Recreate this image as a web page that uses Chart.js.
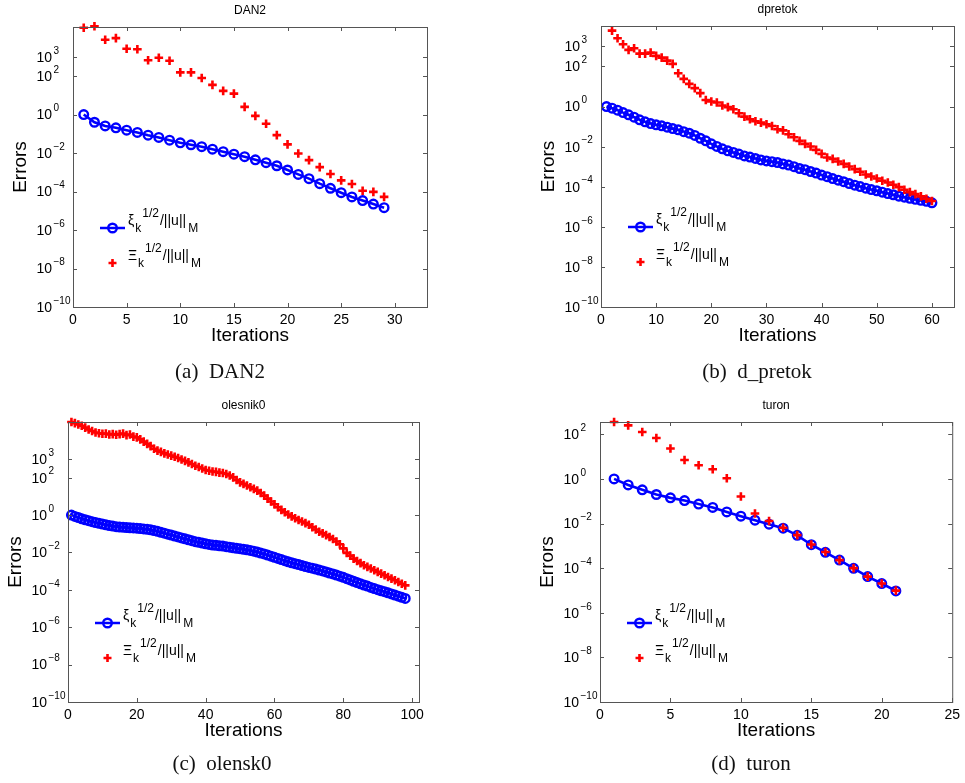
<!DOCTYPE html>
<html>
<head>
<meta charset="utf-8">
<script src="https://cdn.jsdelivr.net/npm/chart.js@4.4.1/dist/chart.umd.min.js"></script>
<style>
    body { margin: 0; background: #fff; width: 965px; height: 783px; position: relative; overflow: hidden; }
    canvas { position: absolute; }
    .caption {
        position: absolute;
        font-family: 'Liberation Serif', 'DejaVu Serif', serif;
        font-size: 21px;
        color: #111;
        transform: translate(-50%, -50%);
        white-space: pre;
    }
</style>
</head>
<body>
<canvas id="chartDan2" width="480" height="390" style="left:0;top:0"></canvas>
<canvas id="chartDpretok" width="485" height="390" style="left:480px;top:0"></canvas>
<canvas id="chartOlesnik" width="480" height="388" style="left:0;top:395px"></canvas>
<canvas id="chartTuron" width="485" height="388" style="left:480px;top:395px"></canvas>

<div class="caption" style="left:220px;top:371px">(a)  DAN2</div>
<div class="caption" style="left:757px;top:371px">(b)  d_pretok</div>
<div class="caption" style="left:222px;top:763px">(c)  olensk0</div>
<div class="caption" style="left:751px;top:763px">(d)  turon</div>

<script>
// Values are log10 of the errors (iteration k = 1, 2, ...)
const dan2Xi = [0, -0.40, -0.59, -0.69, -0.81, -0.93, -1.07, -1.19, -1.33, -1.47,
    -1.57, -1.67, -1.80, -1.93, -2.06, -2.19, -2.35, -2.50, -2.66, -2.88,
    -3.11, -3.33, -3.59, -3.83, -4.06, -4.28, -4.47, -4.65, -4.84];
const dan2BigXi = [4.51, 4.59, 3.89, 3.97, 3.42, 3.39, 2.82, 2.95, 2.80, 2.19,
    2.19, 1.90, 1.54, 1.23, 1.09, 0.40, -0.07, -0.48, -1.07, -1.55,
    -2.02, -2.37, -2.73, -3.09, -3.42, -3.61, -3.96, -4.02, -4.28];

const dpretokXi = [0, -0.08, -0.18, -0.30, -0.41, -0.53, -0.66, -0.76, -0.85, -0.91,
    -0.96, -1.03, -1.10, -1.16, -1.25, -1.33, -1.44, -1.58, -1.71, -1.86,
    -1.99, -2.11, -2.21, -2.29, -2.37, -2.46, -2.52, -2.59, -2.66, -2.71,
    -2.75, -2.79, -2.86, -2.92, -3.00, -3.09, -3.15, -3.24, -3.32, -3.42,
    -3.50, -3.59, -3.67, -3.75, -3.84, -3.92, -3.99, -4.07, -4.14, -4.20,
    -4.27, -4.34, -4.40, -4.47, -4.52, -4.58, -4.63, -4.68, -4.73, -4.80];
const dpretokBigXi = [null, 3.79, 3.41, 3.11, 2.83, 2.91, 2.64, 2.64, 2.69, 2.53,
    2.44, 2.29, 2.13, 1.66, 1.38, 1.13, 0.92, 0.67, 0.33, 0.25,
    0.20, 0.05, -0.03, -0.13, -0.33, -0.50, -0.63, -0.73, -0.80, -0.88,
    -0.97, -1.13, -1.19, -1.38, -1.53, -1.71, -1.86, -1.99, -2.16, -2.36,
    -2.54, -2.61, -2.74, -2.86, -2.99, -3.12, -3.25, -3.39, -3.49, -3.59,
    -3.70, -3.79, -3.90, -4.02, -4.15, -4.27, -4.37, -4.48, -4.60, -4.71];

const olesnikXi = [0, -0.07, -0.13, -0.20, -0.25, -0.30, -0.35, -0.40, -0.44, -0.48,
    -0.52, -0.56, -0.59, -0.62, -0.64, -0.65, -0.67, -0.68, -0.69, -0.70,
    -0.72, -0.74, -0.76, -0.79, -0.83, -0.87, -0.92, -0.97, -1.02, -1.07,
    -1.12, -1.17, -1.22, -1.27, -1.32, -1.37, -1.42, -1.46, -1.50, -1.54,
    -1.57, -1.60, -1.62, -1.64, -1.66, -1.69, -1.72, -1.75, -1.78, -1.80,
    -1.83, -1.86, -1.89, -1.93, -1.98, -2.03, -2.08, -2.14, -2.20, -2.26,
    -2.32, -2.38, -2.44, -2.50, -2.55, -2.60, -2.65, -2.70, -2.75, -2.80,
    -2.84, -2.89, -2.94, -2.99, -3.04, -3.10, -3.15, -3.21, -3.27, -3.33,
    -3.40, -3.47, -3.54, -3.61, -3.68, -3.74, -3.80, -3.87, -3.93, -3.99,
    -4.05, -4.10, -4.16, -4.22, -4.28, -4.34, -4.40, -4.46];
const olesnikBigXi = [4.98, 4.92, 4.85, 4.78, 4.68, 4.58, 4.50, 4.42, 4.38, 4.35,
    4.36, 4.31, 4.33, 4.30, 4.33, 4.36, 4.28, 4.31, 4.20, 4.16,
    4.05, 3.93, 3.81, 3.69, 3.55, 3.45, 3.38, 3.30, 3.24, 3.18,
    3.12, 3.05, 2.97, 2.90, 2.82, 2.73, 2.64, 2.57, 2.49, 2.41,
    2.37, 2.33, 2.31, 2.27, 2.25, 2.20, 2.12, 2.02, 1.88, 1.75,
    1.67, 1.58, 1.49, 1.40, 1.31, 1.18, 1.04, 0.88, 0.73, 0.58,
    0.42, 0.28, 0.15, 0.03, -0.07, -0.17, -0.26, -0.34, -0.43, -0.52,
    -0.65, -0.77, -0.89, -0.98, -1.07, -1.17, -1.28, -1.41, -1.56, -1.78,
    -2.02, -2.17, -2.33, -2.46, -2.57, -2.68, -2.77, -2.86, -2.95, -3.04,
    -3.13, -3.22, -3.31, -3.40, -3.49, -3.58, -3.67, -3.76];

const turonXi = [0, -0.27, -0.49, -0.70, -0.85, -0.97, -1.13, -1.28, -1.48, -1.67,
    -1.85, -2.03, -2.21, -2.53, -2.95, -3.29, -3.64, -4.01, -4.38, -4.69, -5.02];
const turonBigXi = [2.55, 2.40, 2.10, 1.83, 1.36, 0.85, 0.61, 0.43, 0.03, -0.79,
    -1.55, -1.89, -2.19, -2.52, -2.94, -3.28, -3.64, -4.00, -4.38, -4.69, -5.01];

// Tick labels
const yTickExpsFull = [-10, -8, -6, -4, -2, 0, 2, 3];
const yTickExpsTuron = [-10, -8, -6, -4, -2, 0, 2];
const xTicksDan2 = [0, 5, 10, 15, 20, 25, 30];
const xTicksDpretok = [0, 10, 20, 30, 40, 50, 60];
const xTicksOlesnik = [0, 20, 40, 60, 80, 100];
const xTicksTuron = [0, 5, 10, 15, 20, 25];

const FONT = "'Liberation Sans', Arial, sans-serif";

// draws text made of normal / subscript / superscript pieces
function drawRich(ctx, x, y, parts) {
    parts.forEach(p => {
        const size = p.s === 'main' ? 14 : 12;
        const dy = p.s === 'sub' ? 7 : (p.s === 'sup' ? -8 : 0);
        ctx.font = size + 'px ' + FONT;
        ctx.textAlign = 'left';
        ctx.textBaseline = 'alphabetic';
        ctx.fillText(p.t, x, y + dy);
        x += ctx.measureText(p.t).width + (p.gap || 0);
    });
}

// Matlab look: boxed axes, inward ticks, 10^n labels, titles and legend
const matlabAxes = {
    id: 'matlabAxes',
    afterDraw(chart, args, opts) {
        const { ctx, chartArea: a, scales } = chart;
        const xs = scales.x, ys = scales.y;
        ctx.save();

        ctx.strokeStyle = '#555';
        ctx.lineWidth = 1;
        ctx.strokeRect(a.left + 0.5, a.top + 0.5, a.right - a.left, a.bottom - a.top);

        ctx.beginPath();
        xs.ticks.forEach(t => {
            const px = Math.round(xs.getPixelForValue(t.value)) + 0.5;
            ctx.moveTo(px, a.bottom); ctx.lineTo(px, a.bottom - 4);
            ctx.moveTo(px, a.top); ctx.lineTo(px, a.top + 4);
        });
        ys.ticks.forEach(t => {
            const py = Math.round(ys.getPixelForValue(t.value)) + 0.5;
            ctx.moveTo(a.left, py); ctx.lineTo(a.left + 4, py);
            ctx.moveTo(a.right, py); ctx.lineTo(a.right - 4, py);
        });
        ctx.stroke();

        // y tick labels 10^n
        ctx.fillStyle = '#000';
        ys.ticks.forEach(t => {
            const py = ys.getPixelForValue(t.value);
            const e = Math.round(Math.log10(t.value));
            ctx.font = '14px ' + FONT;
            ctx.textAlign = 'right';
            ctx.textBaseline = 'middle';
            ctx.fillText('10', a.left - 21, py + 1);
            ctx.font = '10px ' + FONT;
            ctx.textAlign = 'left';
            ctx.fillText(String(e).replace('-', '\u2212'), a.left - 19.5, py - 6);
        });

        // title and axis labels
        const cx = (a.left + a.right) / 2;
        ctx.textAlign = 'center';
        ctx.textBaseline = 'middle';
        ctx.font = '12px ' + FONT;
        ctx.fillText(opts.title, cx, a.top - 16);
        ctx.font = '19px ' + FONT;
        ctx.fillText('Iterations', cx, a.bottom + 29);
        ctx.save();
        ctx.translate(a.left - 52, (a.top + a.bottom) / 2);
        ctx.rotate(-Math.PI / 2);
        ctx.fillText('Errors', 0, 0);
        ctx.restore();

        // legend
        const r1 = a.top + 201, r2 = a.top + 236;
        ctx.strokeStyle = '#0000ff';
        ctx.lineWidth = 2.5;
        ctx.beginPath();
        ctx.moveTo(a.left + 27, r1); ctx.lineTo(a.left + 52, r1);
        ctx.stroke();
        ctx.lineWidth = 2.4;
        ctx.beginPath();
        ctx.arc(a.left + 39.5, r1, 4.3, 0, Math.PI * 2);
        ctx.stroke();
        ctx.strokeStyle = '#ff0000';
        ctx.lineWidth = 2.6;
        ctx.beginPath();
        ctx.moveTo(a.left + 35.5, r2); ctx.lineTo(a.left + 43.5, r2);
        ctx.moveTo(a.left + 39.5, r2 - 4); ctx.lineTo(a.left + 39.5, r2 + 4);
        ctx.stroke();

        ctx.fillStyle = '#000';
        drawRich(ctx, a.left + 55, r1 - 3, [
            { t: '\u03BE', s: 'main', gap: 1 }, { t: 'k', s: 'sub', gap: 1 }, { t: '1/2', s: 'sup', gap: 1 },
            { t: '/||u||', s: 'main', gap: 2 }, { t: 'M', s: 'sub' }
        ]);
        drawRich(ctx, a.left + 55, r2 - 3, [
            { t: '\u039E', s: 'main', gap: 1 }, { t: 'k', s: 'sub', gap: 1 }, { t: '1/2', s: 'sup', gap: 1 },
            { t: '/||u||', s: 'main', gap: 2 }, { t: 'M', s: 'sub' }
        ]);

        ctx.restore();
    }
};

function toPoints(exps) {
    return exps.map((e, i) => ({ x: i + 1, y: e === null ? null : Math.pow(10, e) }));
}

function buildChart(id, cfg) {
    const canvas = document.getElementById(id);
    const W = canvas.width, H = canvas.height;
    return new Chart(canvas.getContext('2d'), {
        type: 'line',
        data: {
            datasets: [
                {
                    label: 'Xi_k^1/2/||u||_M',
                    data: toPoints(cfg.big),
                    showLine: false,
                    pointStyle: 'cross',
                    pointRadius: 4.3,
                    pointBorderColor: '#ff0000',
                    pointBorderWidth: 2.6,
                    borderColor: '#ff0000',
                    clip: false,
                    order: 0
                },
                {
                    label: 'xi_k^1/2/||u||_M',
                    data: toPoints(cfg.xi),
                    borderColor: '#0000ff',
                    borderWidth: 2.6,
                    pointStyle: 'circle',
                    pointRadius: 4.3,
                    pointBorderWidth: 2.4,
                    pointBorderColor: '#0000ff',
                    pointBackgroundColor: 'rgba(0,0,0,0)',
                    tension: 0,
                    clip: false,
                    order: 1
                }
            ]
        },
        options: {
            responsive: false,
            animation: false,
            layout: { padding: { top: cfg.area.top, right: W - cfg.area.right, left: 0, bottom: 0 } },
            plugins: {
                legend: { display: false },
                tooltip: { enabled: false },
                matlabAxes: { title: cfg.title }
            },
            scales: {
                x: {
                    type: 'linear',
                    min: 0,
                    max: cfg.xMax,
                    afterBuildTicks: s => { s.ticks = cfg.xTicks.map(v => ({ value: v })); },
                    afterFit: s => { s.height = H - cfg.area.bottom; },
                    grid: { display: false, drawTicks: false },
                    border: { display: false },
                    ticks: { font: { family: FONT, size: 14 }, color: '#000', padding: 5, maxRotation: 0, autoSkip: false }
                },
                y: {
                    type: 'logarithmic',
                    min: 1e-10,
                    max: Math.pow(10, cfg.yMaxExp),
                    afterBuildTicks: s => { s.ticks = cfg.yTicks.map(e => ({ value: Math.pow(10, e) })); },
                    afterFit: s => { s.width = cfg.area.left; },
                    grid: { display: false, drawTicks: false },
                    border: { display: false },
                    ticks: { display: false }
                }
            }
        },
        plugins: [matlabAxes]
    });
}

document.addEventListener("DOMContentLoaded", function () {
    buildChart('chartDan2', {
        title: 'DAN2', xi: dan2Xi, big: dan2BigXi,
        xMax: 33, xTicks: xTicksDan2, yMaxExp: 4.55, yTicks: yTickExpsFull,
        area: { left: 73, top: 27, right: 427, bottom: 307 }
    });
    buildChart('chartDpretok', {
        title: 'dpretok', xi: dpretokXi, big: dpretokBigXi,
        xMax: 64, xTicks: xTicksDpretok, yMaxExp: 4.02, yTicks: yTickExpsFull,
        area: { left: 121, top: 26, right: 474, bottom: 307 }
    });
    buildChart('chartOlesnik', {
        title: 'olesnik0', xi: olesnikXi, big: olesnikBigXi,
        xMax: 102, xTicks: xTicksOlesnik, yMaxExp: 4.98, yTicks: yTickExpsFull,
        area: { left: 68, top: 27, right: 419, bottom: 307 }
    });
    buildChart('chartTuron', {
        title: 'turon', xi: turonXi, big: turonBigXi,
        xMax: 25, xTicks: xTicksTuron, yMaxExp: 2.55, yTicks: yTickExpsTuron,
        area: { left: 120, top: 27, right: 473, bottom: 307 }
    });
});
</script>
</body>
</html>
